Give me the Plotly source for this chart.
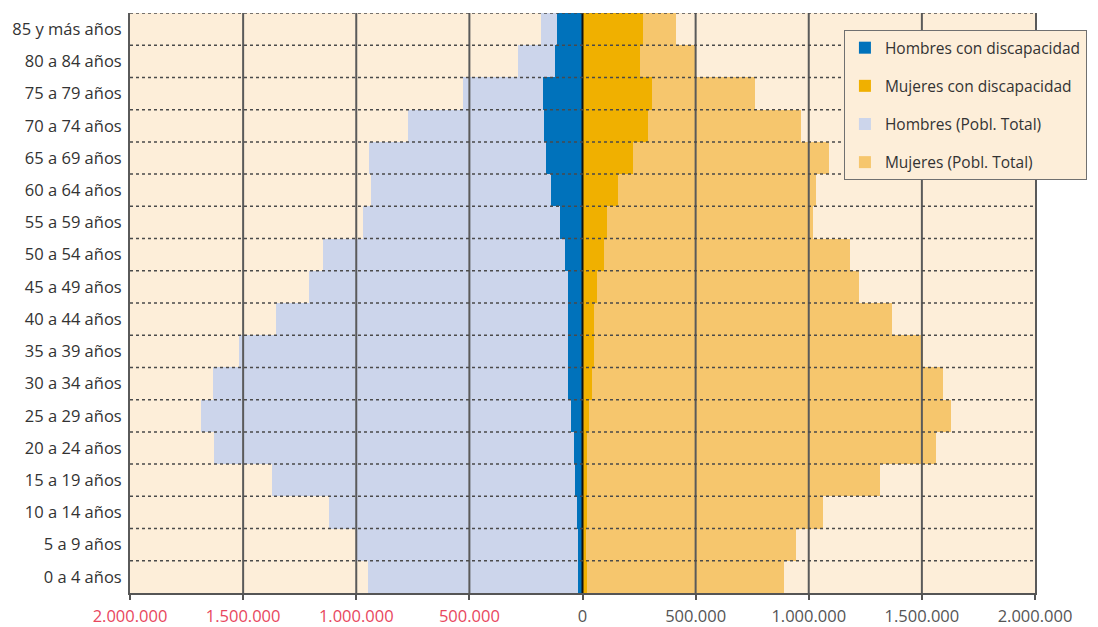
import plotly.graph_objects as go

categorias = ["0 a 4 años", "5 a 9 años", "10 a 14 años", "15 a 19 años", "20 a 24 años",
              "25 a 29 años", "30 a 34 años", "35 a 39 años", "40 a 44 años", "45 a 49 años",
              "50 a 54 años", "55 a 59 años", "60 a 64 años", "65 a 69 años", "70 a 74 años",
              "75 a 79 años", "80 a 84 años", "85 y más años"]

hombres_total = [950000, 998000, 1120000, 1373000, 1630000, 1687000, 1634000, 1517000, 1355000,
                 1211000, 1148000, 969000, 935000, 943000, 771000, 530000, 283000, 182000]
mujeres_total = [892000, 943000, 1061000, 1316000, 1562000, 1629000, 1595000, 1506000, 1367000,
                 1223000, 1183000, 1017000, 1032000, 1090000, 966000, 762000, 498000, 414000]
hombres_disc = [19000, 19000, 24000, 32000, 36000, 51000, 66000, 62000, 62000,
                66000, 76000, 98000, 139000, 160000, 169000, 173000, 120000, 111000]
mujeres_disc = [18000, 16000, 20000, 18000, 22000, 29000, 44000, 51000, 51000,
                66000, 96000, 110000, 159000, 225000, 290000, 305000, 254000, 269000]

tick_vals = [-2000000, -1500000, -1000000, -500000, 0, 500000, 1000000, 1500000, 2000000]
tick_text = ["2.000.000", "1.500.000", "1.000.000", "500.000", "0",
             "500.000", "1.000.000", "1.500.000", "2.000.000"]

NEG_COLOR = "#e8475e"
POS_COLOR = "#555555"
ticktext_html = [
    f'<span style="color:{NEG_COLOR}">{t}</span>' if v < 0 else f'<span style="color:{POS_COLOR}">{t}</span>'
    for v, t in zip(tick_vals, tick_text)
]

fig = go.Figure()
fig.add_trace(go.Bar(y=categorias, x=[-v for v in hombres_total], orientation="h",
                     name="Hombres (Pobl. Total)", marker=dict(color="#ccd5eb", line=dict(width=0)),
                     legendrank=3, legendgroup="c"))
fig.add_trace(go.Bar(y=categorias, x=mujeres_total, orientation="h",
                     name="Mujeres (Pobl. Total)", marker=dict(color="#f6c66d", line=dict(width=0)),
                     legendrank=4, legendgroup="d"))
fig.add_trace(go.Bar(y=categorias, x=[-v for v in hombres_disc], orientation="h",
                     name="Hombres con discapacidad", marker=dict(color="#0072bb", line=dict(width=0)),
                     legendrank=1, legendgroup="a"))
fig.add_trace(go.Bar(y=categorias, x=mujeres_disc, orientation="h",
                     name="Mujeres con discapacidad", marker=dict(color="#f0b000", line=dict(width=0)),
                     legendrank=2, legendgroup="b"))

shapes = []
# vertical grid lines above bars
for v in tick_vals[1:-1]:
    shapes.append(dict(type="line", xref="x", yref="paper", x0=v, x1=v, y0=0, y1=1,
                       line=dict(color="#111111" if v == 0 else "#5a5a5a", width=2), layer="above"))
# horizontal dotted separators
for k in range(len(categorias)):
    shapes.append(dict(type="line", xref="paper", yref="y", x0=0, x1=1, y0=k + 0.5, y1=k + 0.5,
                       line=dict(color="#4a4a4a", width=1.5, dash="dot"), layer="above"))

fig.update_layout(
    width=1098, height=627,
    margin=dict(l=130, r=62, t=13, b=34),
    paper_bgcolor="white",
    plot_bgcolor="#fdeed9",
    barmode="overlay",
    bargap=0,
    font=dict(family="Open Sans", size=15, color="#333333"),
    shapes=shapes,
    xaxis=dict(range=[-2000000, 2000000], tickvals=tick_vals, ticktext=ticktext_html,
               showgrid=False, zeroline=False, showline=True, linecolor="#555555", linewidth=2,
               ticks="outside", ticklen=5, tickwidth=2, tickcolor="#555555", automargin=False,
               tickfont=dict(size=16.5), ticklabelstandoff=2, layer="above traces", fixedrange=True),
    yaxis=dict(range=[-0.5, 17.5], showgrid=False, zeroline=False, showline=True, mirror=True,
               linecolor="#5a5a5a", linewidth=2, ticks="", tickfont=dict(size=16.5, color="#333333"),
               ticklabelstandoff=3, automargin=False, layer="above traces", fixedrange=True),
    legend=dict(x=0.788, y=0.9705, xanchor="left", yanchor="top",
                bgcolor="#fdeed9", bordercolor="#707070", borderwidth=1,
                traceorder="grouped", tracegroupgap=15, itemwidth=30,
                font=dict(size=15.5, color="#333333")),
    showlegend=True,
)

fig.write_html("out.html", config={"displayModeBar": False},
               post_script="document.body.style.margin='0px';")
